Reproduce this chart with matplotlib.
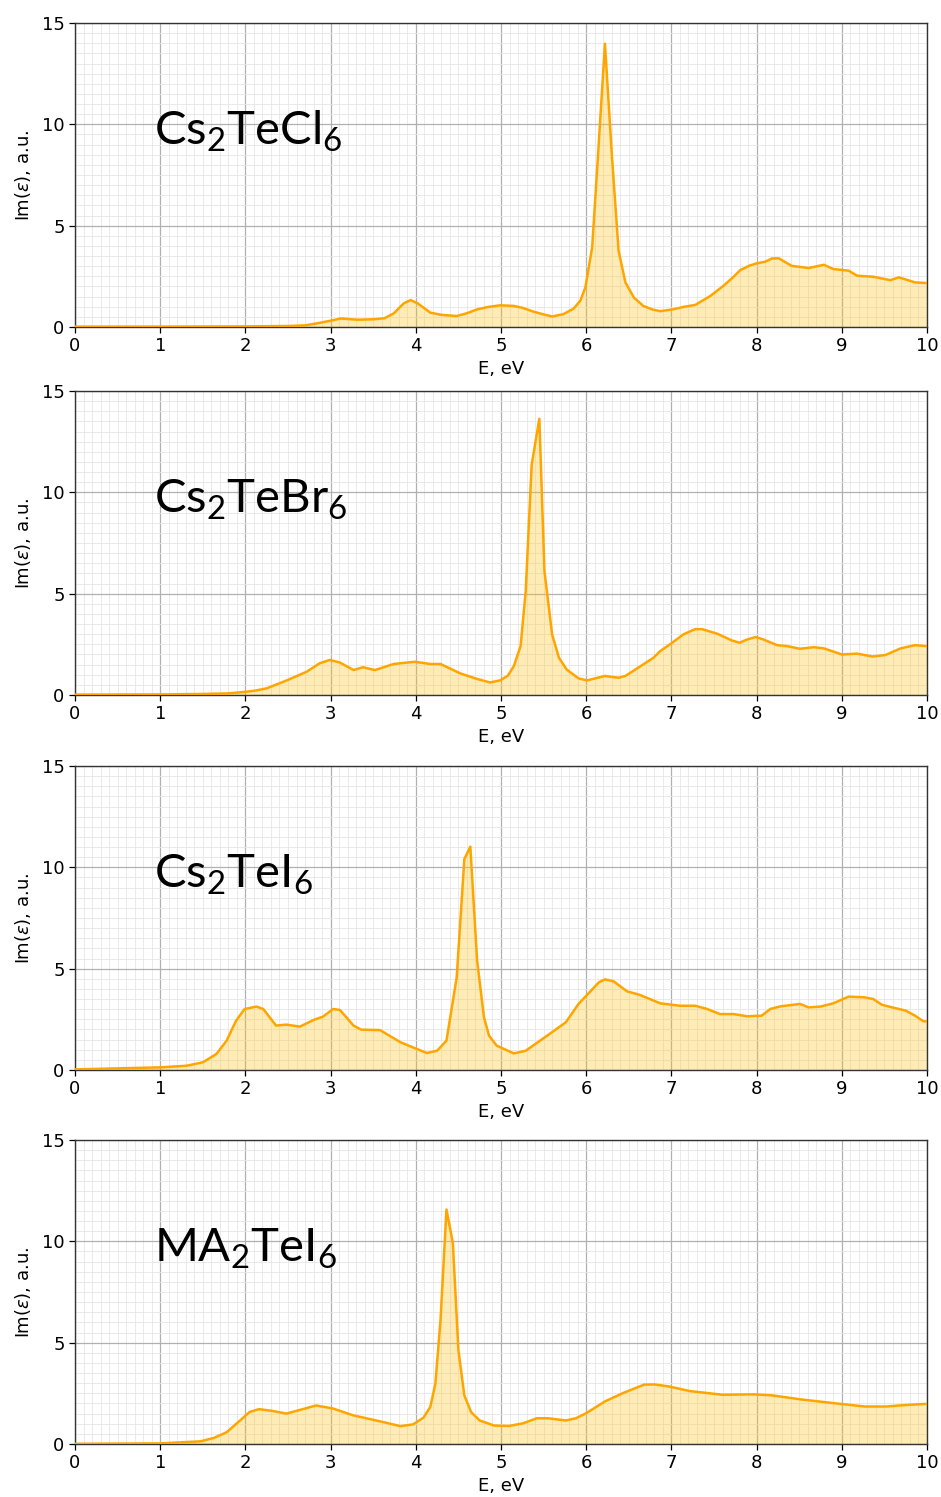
import matplotlib
matplotlib.use("Agg")
import matplotlib.pyplot as plt
from matplotlib.ticker import MultipleLocator

# Imaginary part of the dielectric function for four tellurium halide compounds
labels = [r"Cs$_2$TeCl$_6$", r"Cs$_2$TeBr$_6$", r"Cs$_2$TeI$_6$", r"MA$_2$TeI$_6$"]

e_cl = [0, 1.0, 2.0, 2.5, 2.7, 2.84, 3.0, 3.12, 3.31, 3.5, 3.63, 3.74, 3.86, 3.94, 4.02,
        4.17, 4.3, 4.48, 4.6, 4.72, 4.85, 4.99, 5.15, 5.25, 5.38, 5.5, 5.6, 5.73, 5.85,
        5.93, 5.99, 6.07, 6.14, 6.22, 6.3, 6.38, 6.46, 6.56, 6.67, 6.78, 6.87, 7.03, 7.14,
        7.28, 7.46, 7.61, 7.71, 7.81, 7.91, 8.0, 8.1, 8.18, 8.26, 8.41, 8.61, 8.79, 8.9,
        9.08, 9.18, 9.37, 9.57, 9.67, 9.86, 10.0]
im_cl = [0.02, 0.02, 0.03, 0.05, 0.08, 0.18, 0.31, 0.42, 0.36, 0.38, 0.43, 0.67, 1.17, 1.33,
         1.17, 0.71, 0.6, 0.54, 0.68, 0.87, 0.99, 1.07, 1.04, 0.95, 0.76, 0.62, 0.52, 0.63,
         0.9, 1.29, 1.95, 3.93, 8.56, 13.98, 8.56, 3.77, 2.2, 1.45, 1.04, 0.86, 0.78, 0.88,
         0.99, 1.09, 1.54, 2.03, 2.4, 2.81, 3.02, 3.14, 3.22, 3.38, 3.39, 3.02, 2.91, 3.07,
         2.86, 2.78, 2.53, 2.48, 2.31, 2.45, 2.2, 2.17]

e_br = [0, 1.0, 1.5, 1.8, 2.01, 2.12, 2.25, 2.48, 2.72, 2.87, 2.99, 3.11, 3.27, 3.38, 3.52,
        3.74, 3.99, 4.17, 4.29, 4.52, 4.72, 4.87, 4.99, 5.08, 5.15, 5.23, 5.29, 5.36, 5.45,
        5.51, 5.6, 5.68, 5.77, 5.91, 6.01, 6.22, 6.38, 6.46, 6.67, 6.79, 6.87, 7.01, 7.14,
        7.28, 7.36, 7.54, 7.71, 7.8, 7.89, 7.99, 8.08, 8.24, 8.36, 8.51, 8.67, 8.79, 9.0,
        9.18, 9.36, 9.51, 9.69, 9.86, 10.0]
im_br = [0.02, 0.03, 0.05, 0.08, 0.16, 0.22, 0.33, 0.71, 1.15, 1.56, 1.73, 1.6, 1.23, 1.37,
         1.23, 1.53, 1.64, 1.53, 1.53, 1.07, 0.79, 0.62, 0.72, 0.95, 1.42, 2.41, 5.12, 11.36,
         13.63, 6.11, 2.99, 1.84, 1.26, 0.82, 0.72, 0.94, 0.85, 0.94, 1.51, 1.84, 2.17, 2.58,
         2.99, 3.25, 3.25, 3.02, 2.69, 2.58, 2.74, 2.86, 2.74, 2.46, 2.41, 2.28, 2.36, 2.3,
         2.0, 2.04, 1.9, 1.97, 2.3, 2.46, 2.41]

e_i = [0, 1.0, 1.31, 1.5, 1.66, 1.78, 1.89, 1.99, 2.13, 2.21, 2.36, 2.48, 2.64, 2.8, 2.91,
       3.03, 3.11, 3.27, 3.36, 3.58, 3.82, 4.01, 4.13, 4.25, 4.36, 4.48, 4.57, 4.64, 4.72,
       4.8, 4.86, 4.95, 5.15, 5.29, 5.54, 5.76, 5.91, 6.15, 6.22, 6.32, 6.48, 6.62, 6.87,
       7.1, 7.28, 7.42, 7.57, 7.73, 7.89, 8.06, 8.16, 8.28, 8.51, 8.61, 8.75, 8.9, 9.08,
       9.26, 9.37, 9.47, 9.59, 9.75, 9.86, 9.96, 10.0]
im_i = [0.03, 0.13, 0.21, 0.38, 0.79, 1.45, 2.43, 3.01, 3.13, 3.01, 2.19, 2.24, 2.14, 2.47,
        2.63, 3.01, 2.96, 2.19, 1.99, 1.97, 1.37, 1.04, 0.84, 0.95, 1.45, 4.57, 10.41, 11.02,
        5.39, 2.6, 1.69, 1.2, 0.82, 0.95, 1.69, 2.35, 3.26, 4.33, 4.47, 4.38, 3.88, 3.72,
        3.29, 3.17, 3.17, 3.01, 2.76, 2.76, 2.65, 2.68, 3.01, 3.14, 3.26, 3.09, 3.13, 3.29,
        3.62, 3.59, 3.5, 3.22, 3.09, 2.93, 2.68, 2.4, 2.4]

e_ma = [0, 1.0, 1.47, 1.63, 1.78, 1.94, 2.05, 2.16, 2.32, 2.48, 2.63, 2.83, 3.03, 3.26, 3.62,
        3.82, 3.97, 4.09, 4.17, 4.23, 4.29, 4.36, 4.435, 4.5, 4.57, 4.65, 4.75, 4.92, 5.09,
        5.26, 5.42, 5.55, 5.76, 5.88, 6.0, 6.22, 6.43, 6.68, 6.8, 6.97, 7.22, 7.6, 7.97,
        8.18, 8.52, 8.98, 9.27, 9.52, 9.77, 10.0]
im_ma = [0.01, 0.03, 0.13, 0.3, 0.58, 1.17, 1.58, 1.72, 1.63, 1.5, 1.67, 1.9, 1.75, 1.42,
         1.08, 0.88, 0.97, 1.3, 1.83, 2.98, 6.12, 11.57, 9.92, 4.63, 2.4, 1.57, 1.16, 0.91,
         0.89, 1.02, 1.27, 1.27, 1.16, 1.27, 1.52, 2.1, 2.51, 2.93, 2.94, 2.84, 2.61, 2.43,
         2.45, 2.4, 2.2, 1.98, 1.85, 1.85, 1.93, 1.98]

energies = [e_cl, e_br, e_i, e_ma]
spectra = [im_cl, im_br, im_i, im_ma]

plt.rcParams["mathtext.fontset"] = "custom"
plt.rcParams["mathtext.rm"] = "Lato"
plt.rcParams["mathtext.it"] = "Lato:italic"

fig = plt.figure(figsize=(9.41, 14.97), dpi=100)
left, width, height = 75 / 941, 852 / 941, 304 / 1497
tops = [23, 391, 766, 1140]

for top, e, im, lab in zip(tops, energies, spectra, labels):
    bottom = 1 - (top + 304) / 1497
    ax = fig.add_axes([left, bottom, width, height])
    ax.fill_between(e, im, 0, color="#ffc21a", alpha=0.32, linewidth=0, zorder=2)
    ax.plot(e, im, color="orange", linewidth=1.8, zorder=3)
    ax.set_xlim(0, 10)
    ax.set_ylim(0, 15)
    ax.xaxis.set_major_locator(MultipleLocator(1))
    ax.xaxis.set_minor_locator(MultipleLocator(0.1))
    ax.yaxis.set_major_locator(MultipleLocator(5))
    ax.yaxis.set_minor_locator(MultipleLocator(0.5))
    ax.grid(which="major", color="#b0b0b0", linewidth=0.9, zorder=0)
    ax.grid(which="minor", color="#e6e6e6", linewidth=0.6, zorder=0)
    ax.set_axisbelow(True)
    ax.tick_params(which="major", labelsize=13, length=4, width=0.9)
    ax.tick_params(which="minor", length=0)
    for sp in ax.spines.values():
        sp.set_color("#333333")
        sp.set_linewidth(1.0)
    ax.set_xlabel("E, eV", fontsize=13, labelpad=3)
    ax.set_ylabel(r"Im($\varepsilon$), a.u.", fontsize=13, labelpad=6,
                  math_fontfamily="dejavusans")
    ax.text(0.93, 9.0, lab, fontsize=34, family="Lato", va="baseline", ha="left",
            color="black", zorder=4)

fig.savefig("out.png", dpi=100)
